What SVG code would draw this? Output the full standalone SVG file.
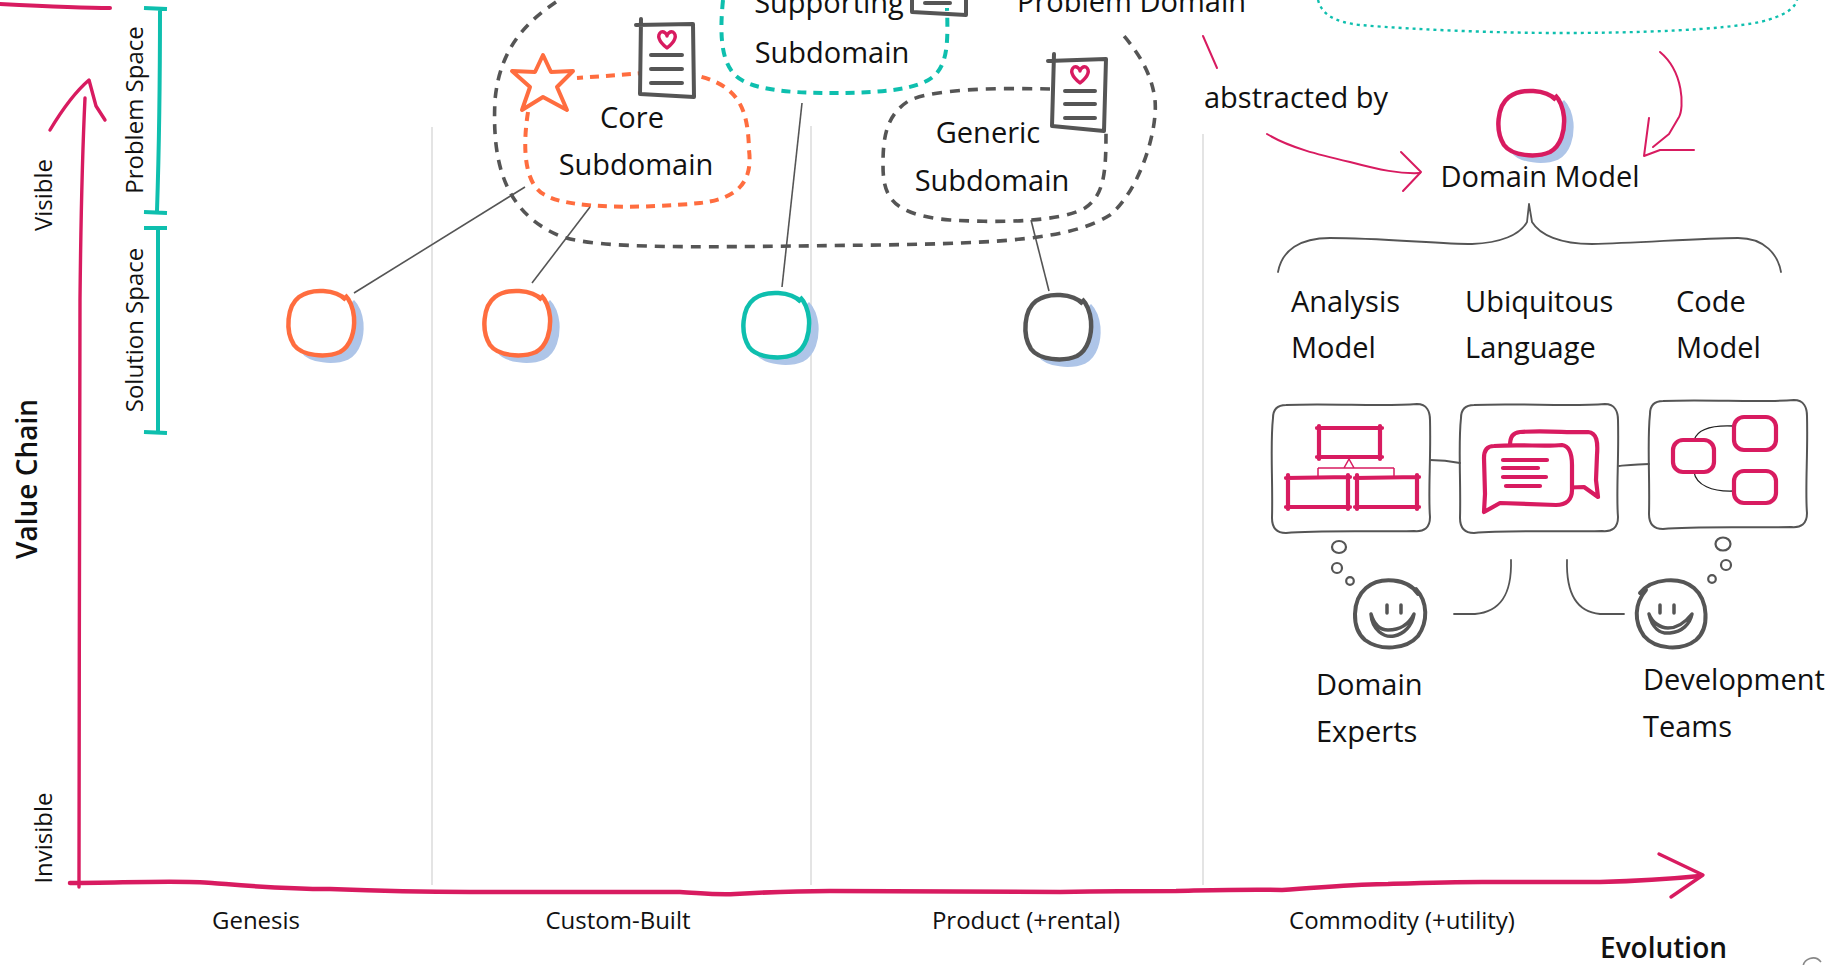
<svg xmlns="http://www.w3.org/2000/svg" xmlns:xlink="http://www.w3.org/1999/xlink" width="1843" height="965" viewBox="0 0 1843 965">
  <style>
    .t { font-family: "Open Sans", "Liberation Sans", sans-serif; fill: #111; }
    .lbl { font-size: 29px; font-weight: 400; }
    .ax { font-size: 24px; font-weight: 400; }
    .axb { font-size: 28px; font-weight: 600; }
    .pink { fill: none; stroke: #d81b60; stroke-linecap: round; stroke-linejoin: round; }
    .teal { fill: none; stroke: #0ebfae; }
    .sk { fill: none; stroke: #555; stroke-linecap: round; stroke-linejoin: round; }
    .grid { stroke: #d2d2d2; stroke-width: 1.2; }
    .link { stroke: #555; stroke-width: 1.6; fill: none; }
    .dash-gray { fill: none; stroke: #555; stroke-width: 3.6; stroke-dasharray: 10 8; }
    .dash-orange { fill: none; stroke: #ff6d3f; stroke-width: 4; stroke-dasharray: 9 7; }
    .dash-teal { fill: none; stroke: #0ebfae; stroke-width: 4; stroke-dasharray: 9 7; }
    .dot-teal { fill: none; stroke: #0ebfae; stroke-width: 2.4; stroke-dasharray: 3 4; }
    .shadow { fill: #aec5e8; stroke: #aec5e8; stroke-width: 3; }
    .doc { fill: #fff; stroke: #555; stroke-width: 4; stroke-linejoin: round; stroke-linecap: round; }
    .docline { stroke: #555; stroke-width: 4; stroke-linecap: round; }
    .heart { fill: none; stroke: #d81b60; stroke-width: 3.4; stroke-linejoin: round; }
    .box { fill: #fff; stroke: #555; stroke-width: 2; }
    .icon { fill: none; stroke: #d81b60; stroke-width: 4.2; stroke-linecap: round; stroke-linejoin: round; }
    .thin { fill: none; stroke: #d81b60; stroke-width: 1.5; }
  </style>
  <defs>
    <!-- hand-drawn round node outline, centred on 0,0 -->
    <path id="blob" d="M25,-23 C15,-34 -10,-35 -22,-26 C-34,-17 -36,8 -27,22 C-19,33 5,35 19,29 C30,23 34,8 33,-6 C32,-15 30,-22 24,-28"/>
    <!-- sketchy rounded card, 158 x 128 -->
    <path id="card" d="M14,1 C60,-1 110,3 145,0 C155,0 158,8 158,16 C159,55 156,90 158,113 C158,124 152,128 142,127 C98,128 48,126 14,129 C4,129 0,123 0,114 C1,76 -2,41 1,14 C1,5 6,1 14,1 Z"/>
    <path id="heart" d="M0,8 C-9,1 -10,-5 -6,-8 C-3,-9 0,-6 0,-4 C0,-6 3,-9 6,-8 C10,-5 9,1 0,8 Z"/>
  </defs>

  <rect width="1843" height="965" fill="#fff"/>

  <!-- evolution columns -->
  <g id="grid">
    <line class="grid" x1="432" y1="127" x2="432" y2="885"/>
    <line class="grid" x1="811" y1="126" x2="811" y2="885"/>
    <line class="grid" x1="1203" y1="134" x2="1203" y2="885"/>
  </g>

  <!-- value chain / evolution axes -->
  <g id="axes">
    <path class="pink" stroke-width="4" d="M0,4 C40,6 80,8 110,8"/>
    <path class="pink" stroke-width="3.4" d="M79,887 C79,700 80,400 80,300 C81,200 83,140 85,98"/>
    <path class="pink" stroke-width="3.4" d="M50,130 C62,110 75,92 89,80 L96,106 L105,120"/>
    <path class="pink" stroke-width="4.5" d="M70,883 C120,883 180,880 212,883 C250,886 280,889 330,889 C380,891 420,892 470,892 L680,892 C700,893 715,895 735,894 C770,892 790,891 830,891 C880,891 960,892 1060,892 C1120,891 1150,891 1176,891 C1220,890 1250,889 1282,890 C1330,887 1360,884 1388,884 C1420,883 1450,882 1482,882 L1600,882 C1640,881 1670,879 1700,876"/>
    <path class="pink" stroke-width="3.4" d="M1659,854 L1703,875 L1671,897"/>

    <text class="t axb" transform="translate(37,479) rotate(-90)" text-anchor="middle">Value Chain</text>
    <text class="t ax" transform="translate(52,195) rotate(-90)" text-anchor="middle">Visible</text>
    <text class="t ax" transform="translate(52,838) rotate(-90)" text-anchor="middle">Invisible</text>
    <text class="t ax" x="256" y="929" text-anchor="middle">Genesis</text>
    <text class="t ax" x="618" y="929" text-anchor="middle">Custom-Built</text>
    <text class="t ax" x="1026" y="929" text-anchor="middle">Product (+rental)</text>
    <text class="t ax" x="1402" y="929" text-anchor="middle">Commodity (+utility)</text>
    <text class="t axb" x="1600" y="958">Evolution</text>
    <path d="M1803,968 A10,10 0 0 1 1821,962" fill="none" stroke="#888" stroke-width="1.5"/>
  </g>

  <!-- problem / solution space brackets -->
  <g id="space-brackets">
    <path class="teal" stroke-width="4" d="M144,8 L167,9 M160,9 C160,80 159,150 157,211 M144,212 L167,213"/>
    <path class="teal" stroke-width="4" d="M144,228 L167,228 M158,228 C158,300 158,370 158,431 M144,432 L167,433"/>
    <text class="t ax" transform="translate(143,110) rotate(-90)" text-anchor="middle">Problem Space</text>
    <text class="t ax" transform="translate(143,330) rotate(-90)" text-anchor="middle">Solution Space</text>
  </g>

  <!-- problem domain outline -->
  <g id="problem-domain">
    <path class="dash-gray" d="M556,2 C530,20 500,45 495,100 C492,160 503,212 560,236 C600,250 700,247 880,245 C1000,243 1070,240 1110,215 C1140,190 1158,130 1155,100 C1152,75 1140,55 1124,36"/>
    <text class="t lbl" x="1017" y="12">Problem Domain</text>
  </g>

  <!-- subdomains -->
  <g id="supporting-subdomain">
    <path class="doc" d="M912,-10 L912,12 L966,15 L966,-10"/>
    <line class="docline" x1="925" y1="3" x2="950" y2="3"/>
    <path class="dash-teal" d="M723,0 C720,30 720,60 735,75 C750,90 790,93 830,93 C880,93 920,90 935,75 C948,62 948,40 947,8"/>
    <text class="t lbl" x="829" y="13" text-anchor="middle">Supporting</text>
    <text class="t lbl" x="832" y="63" text-anchor="middle">Subdomain</text>
  </g>

  <g id="core-subdomain">
    <path class="dash-orange" d="M528,112 C522,150 525,185 545,195 C570,210 650,208 700,203 C745,198 752,175 749,150 C748,110 740,85 694,75 C670,72 650,72 632,74 L577,78"/>
    <path fill="#fff" stroke="#ff6d3f" stroke-width="4" stroke-linejoin="round" d="M543,55 L551,72 L573,71 L557,87 L567,110 L543,97 L522,110 L530,87 L512,71 L535,72 Z"/>
    <path class="doc" d="M641,19 L640,94 L694,97 L693,24 L636,25"/>
    <use href="#heart" class="heart" transform="translate(667,40)"/>
    <path class="docline" d="M651,55 L682,55 M651,69 L682,69 M651,83 L682,83"/>
    <text class="t lbl" x="632" y="128" text-anchor="middle">Core</text>
    <text class="t lbl" x="636" y="175" text-anchor="middle">Subdomain</text>
  </g>

  <g id="generic-subdomain">
    <path class="dash-gray" d="M1050,89 C1000,88 940,88 910,100 C885,115 883,140 883,165 C883,195 890,215 950,220 C1000,223 1060,222 1085,208 C1105,195 1106,170 1106,130"/>
    <path class="doc" d="M1054,54 L1052,126 L1104,131 L1106,59 L1048,61"/>
    <use href="#heart" class="heart" transform="translate(1080,75)"/>
    <path class="docline" d="M1065,91 L1095,91 M1065,104 L1095,104 M1065,118 L1095,118"/>
    <text class="t lbl" x="988" y="143" text-anchor="middle">Generic</text>
    <text class="t lbl" x="992" y="191" text-anchor="middle">Subdomain</text>
  </g>

  <!-- bounded contexts -->
  <g id="context-core-1">
    <use href="#blob" class="shadow" transform="translate(329,329)"/>
    <use href="#blob" transform="translate(321,323)" fill="#fff" stroke="#ff6d3f" stroke-width="4.5"/>
  </g>
  <g id="context-core-2">
    <use href="#blob" class="shadow" transform="translate(525,329)"/>
    <use href="#blob" transform="translate(517,323)" fill="#fff" stroke="#ff6d3f" stroke-width="4.5"/>
  </g>
  <g id="context-supporting">
    <use href="#blob" class="shadow" transform="translate(784,331)"/>
    <use href="#blob" transform="translate(776,325)" fill="#fff" stroke="#0ebfae" stroke-width="4.5"/>
  </g>
  <g id="context-generic">
    <use href="#blob" class="shadow" transform="translate(1066,333)"/>
    <use href="#blob" transform="translate(1058,327)" fill="#fff" stroke="#555" stroke-width="4.5"/>
  </g>

  <!-- domain model -->
  <g id="abstracted-by">
    <text class="t lbl" x="1204" y="108">abstracted by</text>
  </g>
  <g id="domain-model">
    <path class="dot-teal" d="M1318,0 C1322,15 1335,22 1360,25 C1420,30 1500,33 1560,33 C1640,33 1720,30 1760,22 C1785,16 1795,8 1797,0"/>
    <use href="#blob" class="shadow" transform="translate(1539,129)"/>
    <use href="#blob" transform="translate(1531,123)" fill="#fff" stroke="#d81b60" stroke-width="4.5"/>
    <text class="t lbl" x="1540" y="187" text-anchor="middle">Domain Model</text>
  </g>

  <g id="analysis-model">
    <text class="t lbl" x="1291" y="312">Analysis</text>
    <text class="t lbl" x="1291" y="358">Model</text>
    <use href="#card" class="box" transform="translate(1272,404)"/>
    <path class="icon" d="M1317,428 L1382,428 M1380,426 L1380,459 M1382,457 L1317,457 M1319,459 L1319,426"/>
    <path class="icon" d="M1286,478 L1350,477 M1348,475 L1348,509 M1350,507 L1286,507 M1288,509 L1288,475"/>
    <path class="icon" d="M1355,478 L1419,477 M1417,475 L1417,509 M1419,507 L1355,507 M1357,509 L1357,475"/>
    <path class="thin" d="M1349,459 L1344,468 L1354,468 Z M1318,468 L1394,468 M1318,468 L1318,477 M1394,468 L1394,477"/>
  </g>

  <g id="ubiquitous-language">
    <text class="t lbl" x="1465" y="312">Ubiquitous</text>
    <text class="t lbl" x="1465" y="358">Language</text>
    <use href="#card" class="box" transform="translate(1460,404)"/>
    <path class="icon" d="M1520,432 C1545,430 1570,433 1588,432 C1597,433 1598,442 1597,455 L1596,480 L1598,497 L1584,487 L1530,489 C1515,489 1510,480 1510,465 L1510,446 C1510,436 1513,433 1520,432 Z" style="fill:#fff"/>
    <path class="icon" d="M1494,446 C1520,444 1545,447 1562,445 C1570,446 1572,455 1572,465 L1572,490 C1572,500 1566,505 1556,505 L1500,503 L1484,512 L1485,494 L1484,458 C1484,450 1487,446 1494,446 Z" style="fill:#fff"/>
    <path class="icon" stroke-width="3.5" d="M1503,460 L1547,460 M1503,468 L1538,468 M1503,477 L1546,477 M1506,486 L1540,486"/>
  </g>

  <g id="code-model">
    <text class="t lbl" x="1676" y="312">Code</text>
    <text class="t lbl" x="1676" y="358">Model</text>
    <use href="#card" class="box" transform="translate(1649,400)"/>
    <path fill="none" stroke="#222" stroke-width="1.3" d="M1694,440 C1698,428 1715,425 1734,426 M1694,472 C1696,485 1712,492 1734,491"/>
    <rect class="icon" x="1673" y="440" width="41" height="32" rx="10"/>
    <rect class="icon" x="1734" y="417" width="42" height="33" rx="10"/>
    <rect class="icon" x="1734" y="471" width="42" height="32" rx="10"/>
  </g>

  <!-- people -->
  <g id="domain-experts">
    <ellipse class="sk" stroke-width="2.2" cx="1339" cy="547" rx="7" ry="6"/>
    <circle class="sk" stroke-width="2.2" cx="1337" cy="568" r="5"/>
    <circle class="sk" stroke-width="2.2" cx="1350" cy="581" r="3.8"/>
    <path class="sk" stroke-width="4" d="M1418,594 C1408,578 1380,576 1366,588 C1352,600 1351,628 1365,640 C1380,651 1406,650 1418,636 C1428,622 1428,602 1416,589"/>
    <path class="sk" stroke-width="3.5" d="M1387,605 L1387,613 M1401,605 L1401,613"/>
    <path class="sk" stroke-width="3.5" d="M1371,614 C1372,630 1384,638 1394,636 C1404,634 1412,626 1414,614 C1408,626 1398,630 1388,630 C1380,630 1374,624 1371,614 Z"/>
    <text class="t lbl" x="1316" y="695">Domain</text>
    <text class="t lbl" x="1316" y="742">Experts</text>
  </g>

  <g id="development-teams">
    <ellipse class="sk" stroke-width="2.2" cx="1723" cy="544" rx="7.5" ry="6.5"/>
    <circle class="sk" stroke-width="2.2" cx="1726" cy="565" r="5"/>
    <circle class="sk" stroke-width="2.2" cx="1712" cy="579" r="3.8"/>
    <path class="sk" stroke-width="4" d="M1640,593 C1652,578 1680,576 1694,588 C1708,600 1710,628 1696,640 C1682,651 1656,650 1644,636 C1634,622 1634,604 1646,590"/>
    <path class="sk" stroke-width="3.5" d="M1660,605 L1660,613 M1674,605 L1674,613"/>
    <path class="sk" stroke-width="3.5" d="M1649,614 C1652,628 1660,634 1670,633 C1682,632 1690,624 1692,614 C1684,624 1676,628 1668,628 C1660,628 1652,622 1649,614 Z"/>
    <text class="t lbl" x="1643" y="690">Development</text>
    <text class="t lbl" x="1643" y="737">Teams</text>
  </g>

  <!-- connectors -->
  <g id="connectors">
    <path class="link" d="M525,187 L354,293"/>
    <path class="link" d="M590,207 L532,283"/>
    <path class="link" d="M802,103 L782,287"/>
    <path class="link" d="M1031,220 L1049,291"/>

    <path class="pink" stroke-width="2" d="M1203,36 L1217,68"/>
    <path class="pink" stroke-width="2" d="M1267,134 C1290,148 1320,155 1350,162 C1380,170 1400,174 1420,173"/>
    <path class="pink" stroke-width="2" d="M1401,152 L1421,172 L1403,191"/>
    <path class="pink" stroke-width="2" d="M1660,52 C1684,72 1684,108 1679,117 L1669,134 L1653,147"/>
    <path class="pink" stroke-width="2" d="M1649,118 L1644,156 L1660,150 L1694,150"/>

    <path class="sk" stroke-width="1.8" d="M1278,272 C1282,250 1300,238 1330,238 C1380,238 1440,244 1472,244 C1500,243 1520,235 1527,222 L1529,204 L1532,222 C1540,235 1560,244 1592,244 C1640,243 1700,238 1738,238 C1765,238 1778,255 1781,272"/>

    <path class="sk" stroke-width="1.8" d="M1430,460 C1440,460 1450,461 1460,463"/>
    <path class="sk" stroke-width="1.8" d="M1619,466 C1630,465 1640,464 1649,464"/>

    <path class="sk" stroke-width="1.8" d="M1454,614 L1475,614 C1500,612 1512,595 1511,560"/>
    <path class="sk" stroke-width="1.8" d="M1567,560 C1566,595 1578,612 1600,614 L1624,614"/>
  </g>
</svg>
